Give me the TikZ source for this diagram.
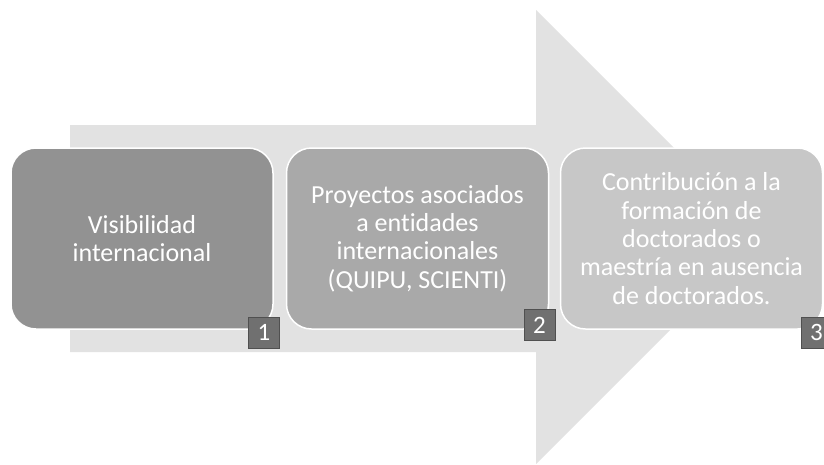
\documentclass[tikz,border=0pt]{standalone}
\usepackage{fontspec}
\setmainfont[Ligatures=NoCommon]{Carlito}
\usetikzlibrary{positioning}
\definecolor{arrowgray}{HTML}{E2E2E2}
\definecolor{boxA}{HTML}{929292}
\definecolor{boxB}{HTML}{A9A9A9}
\definecolor{boxC}{HTML}{C7C7C7}
\definecolor{numgray}{HTML}{707070}
\definecolor{numedge}{HTML}{505050}
\tikzset{
  stage/.style={draw=white, line width=1.5pt, rounded corners=25pt, minimum width=262pt, minimum height=181pt, text=white, align=center, inner sep=0pt, font=\fontsize{26}{28.3}\selectfont},
  num/.style={fill=numgray, draw=numedge, line width=1pt, minimum size=31pt, inner sep=0pt, text=white, font=\fontsize{25}{25}\selectfont}
}
\begin{document}
\begin{tikzpicture}[x=1pt,y=-1pt]
\useasboundingbox[fill=white] (0,0) rectangle (824,464);
% big arrow behind
\fill[arrowgray] (70,125) -- (536,125) -- (536,10) -- (763,237) -- (536,464) -- (536,352) -- (70,352) -- cycle;
\node[stage, fill=boxA] (A) at (142,238.5) {Visibilidad\\internacional};
\node[stage, fill=boxB] (A1) at (417.5,238.5) {Proyectos asociados\\a entidades\\internacionales\\(QUIPU, SCIENTI)};
\node[stage, fill=boxC] (A2) at (691.5,238.5) {Contribución a la\\formación de\\doctorados o\\maestría en ausencia\\de doctorados.};
\node[num] (N) at (264,332.5) {1};
\node[num] (N1) at (539.5,325) {2};
\node[num] (N2) at (816.5,332.5) {3};
\end{tikzpicture}
\end{document}
